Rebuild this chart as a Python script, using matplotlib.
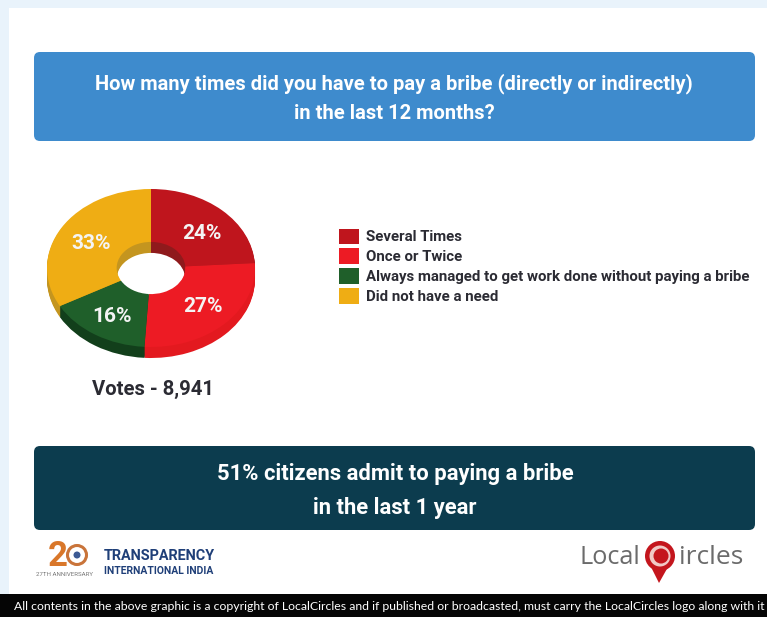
import matplotlib
matplotlib.use("Agg")
import matplotlib.pyplot as plt
from matplotlib.patches import FancyBboxPatch, Rectangle, Circle, Polygon

plt.rcParams["font.family"] = ["Roboto", "DejaVu Sans"]

# chart data
categories = ["Several Times", "Once or Twice", "Always managed to get work done without paying a bribe", "Did not have a need"]
shares = [24, 27, 16, 33]
votes_label = "Votes - 8,941"
question = "How many times did you have to pay a bribe (directly or indirectly)\nin the last 12 months?"
headline = "51% citizens admit to paying a bribe\nin the last 1 year"
footer = "All contents in the above graphic is a copyright of LocalCircles and if published or broadcasted, must carry the LocalCircles logo along with it"

top_colors = ["#bf151d", "#ed1b24", "#1f5f2a", "#efad14"]
wall_colors = ["#8f1a1c", "#e3191f", "#123f1b", "#c4951f"]

W, H = 767, 617
fig = plt.figure(figsize=(W / 100, H / 100), dpi=100, facecolor="#e9f3fb")


def px_axes(x, y, w, h):
    # axes placed with pixel coords measured from the top left
    return fig.add_axes([x / W, 1 - (y + h) / H, w / W, h / H])


# page layer, pixel coords
bg = px_axes(0, 0, W, H)
bg.set_xlim(0, W)
bg.set_ylim(H, 0)
bg.axis("off")
bg.add_patch(Rectangle((9, 8), W - 9, H - 8, color="white", lw=0))
bg.add_patch(Rectangle((0, 594), W, 23, color="#050505", lw=0))
for y0, y1, col in [(52, 141, "#3e8bcd"), (446, 530, "#0c3c4e")]:
    bg.add_patch(FancyBboxPatch((40, y0 + 6), 709, y1 - y0 - 12, boxstyle="round,pad=6", color=col, lw=0))
bg.text(394, 98, question, color="white", fontsize=14.5, fontweight="bold", ha="center", va="center", linespacing=1.7)
bg.text(395, 491, headline, color="white", fontsize=15.8, fontweight="bold", ha="center", va="center", linespacing=1.65)
bg.text(153, 389, votes_label, color="#2b2b33", fontsize=14.6, fontweight="bold", ha="center", va="center")
bg.text(14, 606, footer, color="white", fontsize=8.8, family="Lato", ha="left", va="center", clip_on=True)

# extruded donut, wall layers first then the top face
cx, cy, rx, ry = 151, 268, 104, 79
depth = 11
for d in range(depth, 0, -1):
    wall = px_axes(cx - rx, cy - ry + d, 2 * rx, 2 * ry)
    wall.pie(shares, colors=wall_colors, startangle=90, counterclock=False, radius=1,
             wedgeprops={"width": 0.67, "lw": 0})
    wall.set_aspect("auto")
    wall.set_xlim(-1, 1)
    wall.set_ylim(-1, 1)

face = px_axes(cx - rx, cy - ry, 2 * rx, 2 * ry)
wedges, _, autotexts = face.pie(shares, colors=top_colors, startangle=90, counterclock=False, radius=1,
                                wedgeprops={"width": 0.67, "lw": 0}, labels=None,
                                autopct=lambda p: "%d%%" % round(p), pctdistance=0.7,
                                textprops={"color": "#f4f4f4", "fontsize": 15, "fontweight": "bold"})
face.set_aspect("auto")
face.set_xlim(-1, 1)
face.set_ylim(-1, 1)
# nudge the labels off the wedge middles, in pixels
for t, (dx, dy) in zip(autotexts, [(1, 6), (1, -1), (0, 2), (3, 4)]):
    tx, ty = t.get_position()
    t.set_position((tx + dx / rx, ty - dy / ry))

fig.legend(wedges, categories, loc="upper left", bbox_to_anchor=(339 / W, 1 - 228.5 / H), frameon=False,
           handlelength=1.33, handleheight=1.2, handletextpad=0.46, labelspacing=0.27,
           borderpad=0, borderaxespad=0, labelcolor="#2b2b33", prop={"weight": "bold", "size": 10.85})

# logos on top
logo = px_axes(0, 0, W, H)
logo.set_xlim(0, W)
logo.set_ylim(H, 0)
logo.axis("off")
logo.patch.set_alpha(0)
logo.text(68, 557, "2", color="#d9772a", fontsize=25, fontweight="bold", ha="right", va="center")
logo.add_patch(Circle((77, 555), 9.5, fc="white", ec="#c9743a", lw=2.2))
logo.add_patch(Circle((77, 555), 3.5, fc="#3d5a94", lw=0))
logo.text(64, 575, "27TH ANNIVERSARY", color="#777777", fontsize=4.4, ha="center", va="center")
logo.text(104, 556, "TRANSPARENCY", color="#1f3f78", fontsize=10.4, fontweight="bold", ha="left", va="center")
logo.text(104, 571, "INTERNATIONAL INDIA", color="#1f3f78", fontsize=7.5, fontweight="bold", ha="left", va="center")
logo.text(579, 557, "Local", color="#6b6b6b", fontsize=18.2, family="Open Sans", ha="left", va="center")
logo.text(679, 557, "ircles", color="#6b6b6b", fontsize=19, family="Open Sans", ha="left", va="center")
logo.add_patch(Polygon([[651, 567], [668, 567], [659, 583]], color="#c4161d", lw=0))
logo.add_patch(Circle((660, 556), 15, fc="#c4161d", lw=0))
logo.add_patch(Circle((660, 556), 10.5, fc="#f1c9c6", lw=0))
logo.add_patch(Circle((661, 556), 7.5, fc="#c4161d", lw=0))

fig.savefig("out.png", dpi=100, facecolor=fig.get_facecolor())
